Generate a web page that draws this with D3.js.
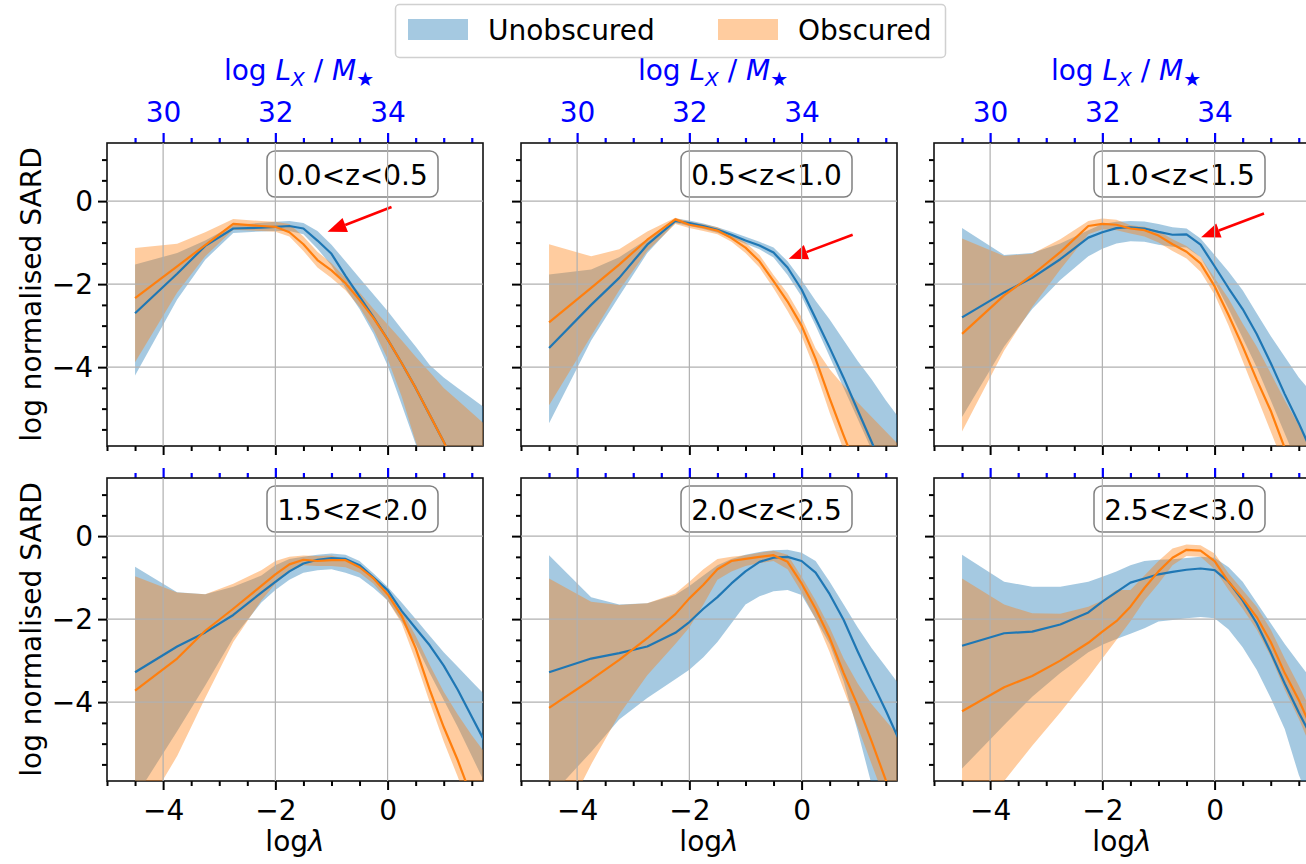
<!DOCTYPE html>
<html>
<head>
<meta charset="utf-8">
<script src="https://cdn.jsdelivr.net/npm/d3@7"></script>
<style>
  body { margin: 0; background: #fff; }
  svg { display: block; font-family: "DejaVu Sans", "Liberation Sans", sans-serif; }
</style>
</head>
<body>
<svg id="chart" width="1306" height="864"></svg>
<script>
// log(lambda) sampling shared by every curve
const logLambda = [-4.5, -3.75, -3.25, -2.75, -2.25, -2.0, -1.75, -1.5, -1.25, -1.0, -0.75, -0.5, -0.25, 0.0, 0.25, 0.5, 0.75, 1.0, 1.25, 1.5, 1.75];

// redshift bins, one per panel
const zBins = ["0.0<z<0.5", "0.5<z<1.0", "1.0<z<1.5", "1.5<z<2.0", "2.0<z<2.5", "2.5<z<3.0"];

// Unobscured: median, lower and upper envelope (log normalised SARD)
const unobsMedian = [
  [-2.70,-1.75,-1.08,-0.66,-0.64,-0.62,-0.60,-0.66,-0.95,-1.27,-1.80,-2.30,-2.80,-3.33,-3.90,-4.50,-5.15,-5.80,-6.50,-7.20,-7.90],
  [-3.54,-2.50,-1.85,-1.05,-0.48,-0.53,-0.60,-0.69,-0.81,-0.95,-1.07,-1.24,-1.60,-2.13,-2.83,-3.53,-4.26,-5.04,-5.81,-6.60,-7.40],
  [-2.80,-2.20,-1.85,-1.40,-0.88,-0.75,-0.65,-0.63,-0.66,-0.74,-0.81,-0.80,-1.05,-1.57,-2.10,-2.60,-3.20,-3.90,-4.65,-5.35,-6.10],
  [-3.28,-2.66,-2.32,-1.90,-1.36,-1.10,-0.85,-0.66,-0.57,-0.53,-0.55,-0.70,-1.00,-1.30,-1.80,-2.22,-2.63,-3.12,-3.70,-4.35,-5.00],
  [-3.28,-2.95,-2.82,-2.66,-2.33,-2.07,-1.75,-1.47,-1.14,-0.85,-0.62,-0.52,-0.50,-0.60,-0.88,-1.40,-2.02,-2.78,-3.50,-4.20,-4.95],
  [-2.64,-2.34,-2.30,-2.13,-1.84,-1.58,-1.35,-1.12,-1.02,-0.92,-0.86,-0.81,-0.78,-0.82,-1.10,-1.55,-2.10,-2.80,-3.55,-4.25,-4.90]
];
const unobsLower = [
  [-4.20,-2.37,-1.41,-0.77,-0.73,-0.72,-0.72,-0.80,-1.15,-1.55,-2.10,-2.60,-3.20,-3.96,-4.90,-5.85,-6.80,-7.70,-8.60,-9.50,-10.40],
  [-5.35,-3.36,-2.29,-1.25,-0.53,-0.60,-0.67,-0.76,-0.89,-1.03,-1.16,-1.36,-1.78,-2.30,-3.00,-3.75,-4.50,-5.25,-6.00,-6.80,-7.60],
  [-5.20,-3.50,-2.60,-1.90,-1.33,-1.15,-1.02,-0.97,-0.98,-1.05,-1.10,-1.12,-1.35,-1.95,-2.60,-3.30,-4.00,-4.80,-5.60,-6.40,-7.20],
  [-6.30,-4.70,-3.60,-2.45,-1.60,-1.30,-1.05,-0.88,-0.82,-0.80,-0.88,-1.00,-1.25,-1.55,-2.05,-2.60,-3.30,-3.95,-4.60,-5.30,-6.00],
  [-6.30,-5.20,-4.42,-3.90,-3.45,-3.22,-2.92,-2.55,-2.10,-1.65,-1.45,-1.33,-1.30,-1.42,-2.00,-2.60,-3.50,-4.70,-6.00,-7.30,-8.60],
  [-5.60,-4.55,-3.87,-3.30,-2.80,-2.62,-2.48,-2.35,-2.22,-2.06,-2.02,-1.98,-1.95,-1.98,-2.25,-2.68,-3.22,-3.90,-4.65,-5.75,-6.60]
];
const unobsUpper = [
  [-1.53,-1.25,-0.95,-0.58,-0.52,-0.50,-0.48,-0.53,-0.72,-1.05,-1.45,-1.85,-2.25,-2.65,-3.08,-3.50,-3.95,-4.25,-4.50,-4.75,-5.00],
  [-1.77,-1.65,-1.35,-0.92,-0.42,-0.47,-0.54,-0.63,-0.74,-0.86,-0.98,-1.12,-1.45,-1.90,-2.40,-2.85,-3.35,-3.85,-4.30,-4.80,-5.25],
  [-0.65,-1.30,-1.25,-1.02,-0.70,-0.55,-0.50,-0.48,-0.49,-0.55,-0.63,-0.66,-0.90,-1.30,-1.70,-2.15,-2.70,-3.25,-3.75,-4.25,-4.65],
  [-0.74,-1.35,-1.40,-1.22,-0.95,-0.70,-0.55,-0.50,-0.45,-0.42,-0.45,-0.60,-0.90,-1.22,-1.60,-2.00,-2.40,-2.80,-3.15,-3.50,-3.85],
  [-0.46,-1.47,-1.65,-1.62,-1.42,-1.20,-0.95,-0.70,-0.55,-0.45,-0.38,-0.34,-0.33,-0.40,-0.60,-1.10,-1.65,-2.20,-2.70,-3.15,-3.60],
  [-0.45,-1.10,-1.22,-1.22,-1.10,-0.98,-0.85,-0.70,-0.60,-0.57,-0.56,-0.53,-0.50,-0.52,-0.75,-1.10,-1.60,-2.10,-2.60,-3.05,-3.50]
];

// Obscured: median, lower and upper envelope
const obsMedian = [
  [-2.34,-1.57,-1.06,-0.55,-0.60,-0.62,-0.75,-1.04,-1.42,-1.67,-1.98,-2.38,-2.82,-3.33,-3.90,-4.50,-5.15,-5.80,-6.50,-7.20,-7.90],
  [-2.92,-2.09,-1.53,-0.93,-0.44,-0.57,-0.63,-0.71,-0.89,-1.12,-1.45,-1.93,-2.42,-3.00,-3.80,-4.75,-5.65,-6.50,-7.40,-8.30,-9.20],
  [-3.20,-2.27,-1.78,-1.23,-0.60,-0.55,-0.57,-0.66,-0.70,-0.83,-1.04,-1.22,-1.50,-2.05,-2.75,-3.50,-4.30,-5.05,-5.95,-6.80,-7.60],
  [-3.72,-2.95,-2.28,-1.75,-1.20,-0.92,-0.68,-0.57,-0.60,-0.58,-0.58,-0.75,-1.02,-1.40,-1.92,-2.70,-3.70,-4.60,-5.40,-6.30,-7.20],
  [-4.14,-3.46,-2.98,-2.46,-1.88,-1.50,-1.17,-0.80,-0.60,-0.55,-0.50,-0.46,-0.62,-1.14,-1.75,-2.45,-3.30,-4.08,-4.95,-5.88,-6.70],
  [-4.22,-3.64,-3.37,-3.00,-2.57,-2.30,-2.05,-1.70,-1.25,-0.85,-0.52,-0.33,-0.35,-0.60,-1.10,-1.50,-1.95,-2.55,-3.30,-3.95,-4.70]
];
const obsLower = [
  [-3.88,-2.20,-1.33,-0.69,-0.72,-0.74,-0.85,-1.20,-1.60,-1.85,-2.15,-2.55,-3.10,-3.80,-4.70,-5.80,-6.80,-7.80,-8.80,-9.80,-10.80],
  [-4.92,-3.25,-2.15,-1.20,-0.55,-0.65,-0.72,-0.80,-0.98,-1.25,-1.60,-2.10,-2.65,-3.25,-4.10,-5.10,-6.00,-6.90,-7.80,-8.70,-9.60],
  [-5.55,-3.60,-2.55,-1.65,-0.80,-0.68,-0.70,-0.78,-0.85,-1.00,-1.20,-1.38,-1.70,-2.25,-3.00,-3.85,-4.70,-5.55,-6.40,-7.30,-8.20],
  [-7.00,-5.30,-3.90,-2.55,-1.55,-1.15,-0.85,-0.70,-0.72,-0.72,-0.75,-0.88,-1.15,-1.55,-2.10,-3.00,-4.00,-4.95,-5.80,-6.70,-7.60],
  [-7.50,-5.50,-4.30,-3.35,-2.60,-2.20,-1.65,-1.05,-0.85,-0.72,-0.65,-0.60,-0.80,-1.35,-2.00,-2.80,-3.70,-4.60,-5.50,-6.40,-7.30],
  [-7.00,-5.90,-5.05,-4.25,-3.40,-2.95,-2.50,-2.05,-1.55,-1.15,-0.70,-0.48,-0.50,-0.80,-1.30,-1.75,-2.25,-2.90,-3.70,-4.40,-5.20]
];
const obsUpper = [
  [-1.13,-1.03,-0.75,-0.43,-0.48,-0.50,-0.55,-0.85,-1.22,-1.50,-1.85,-2.20,-2.60,-2.97,-3.35,-3.75,-4.12,-4.50,-4.80,-5.10,-5.40],
  [-1.04,-1.33,-1.16,-0.73,-0.40,-0.50,-0.56,-0.63,-0.80,-1.00,-1.30,-1.78,-2.22,-2.80,-3.55,-4.05,-4.45,-4.85,-5.20,-5.55,-5.90],
  [-0.90,-1.32,-1.27,-0.92,-0.48,-0.42,-0.45,-0.58,-0.62,-0.72,-0.92,-1.08,-1.35,-1.85,-2.35,-2.95,-3.50,-4.15,-4.80,-5.40,-6.00],
  [-0.97,-1.36,-1.40,-1.15,-0.82,-0.60,-0.50,-0.47,-0.48,-0.47,-0.55,-0.70,-1.00,-1.30,-1.80,-2.40,-3.10,-3.75,-4.30,-4.80,-5.25],
  [-1.02,-1.58,-1.66,-1.62,-1.38,-1.10,-0.80,-0.55,-0.50,-0.46,-0.40,-0.35,-0.45,-0.98,-1.55,-2.20,-2.95,-3.55,-4.05,-4.45,-4.85],
  [-1.02,-1.65,-1.86,-1.87,-1.70,-1.55,-1.30,-1.30,-0.95,-0.60,-0.30,-0.20,-0.22,-0.42,-0.90,-1.30,-1.70,-2.25,-2.95,-3.60,-4.30]
];

// axis ticks
const xTicks = [-4, -2, 0];
const yTicks = [0, -2, -4];
const topTicks = [30, 32, 34];

// annotation arrows on the first row: [logLambda, value] of tail and head
const arrowTail = [[0.07, -0.14], [0.91, -0.81], [0.88, -0.30]];
const arrowHead = [[-1.07, -0.74], [-0.23, -1.39], [-0.24, -0.87]];

const seriesNames = ["Unobscured", "Obscured"];
const seriesColors = ["#1f77b4", "#ff7f0e"];

// ---------- layout ----------
const svg = d3.select("#chart");
const colLeft = [107, 521, 934];
const rowTop = [143, 478];
const panelW = 376, panelH = 303;
const xDomain = [-5, 1.7];
const yDomain = [-5.9, 1.4];
const lxOffset = 34; // log Lx/M* = log lambda + 34
const fontSize = 28;
const gridColor = "#b0b0b0";
const axisBlue = "#0000ff";

function minorRange(lo, hi, step, majors) {
  const out = [];
  for (let v = lo; v <= hi + 1e-9; v += step) {
    const r = Math.round(v * 100) / 100;
    if (!majors.some(m => Math.abs(m - r) < 1e-6)) out.push(r);
  }
  return out;
}

function styleTicks(g, color, width) {
  g.select(".domain").remove();
  g.selectAll(".tick line").attr("stroke", color).attr("stroke-width", width);
  g.selectAll(".tick text").attr("fill", color).attr("font-size", fontSize)
    .attr("font-family", "DejaVu Sans, sans-serif");
}

const defs = svg.append("defs");

zBins.forEach((label, i) => {
  const r = Math.floor(i / 3), c = i % 3;
  const left = colLeft[c], top = rowTop[r];
  const x = d3.scaleLinear().domain(xDomain).range([left, left + panelW]);
  const xTop = d3.scaleLinear().domain([xDomain[0] + lxOffset, xDomain[1] + lxOffset]).range([left, left + panelW]);
  const y = d3.scaleLinear().domain(yDomain).range([top + panelH, top]);

  const clipId = "clip" + i;
  defs.append("clipPath").attr("id", clipId)
    .append("rect").attr("x", left).attr("y", top).attr("width", panelW).attr("height", panelH);

  const panel = svg.append("g");
  const data = svg.append("g").attr("clip-path", `url(#${clipId})`);

  // envelopes
  const lowers = [unobsLower[i], obsLower[i]];
  const uppers = [unobsUpper[i], obsUpper[i]];
  const medians = [unobsMedian[i], obsMedian[i]];
  [0, 1].forEach(s => {
    const area = d3.area()
      .x((d, k) => x(logLambda[k]))
      .y0((d, k) => y(lowers[s][k]))
      .y1((d, k) => y(uppers[s][k]));
    data.append("path").datum(logLambda).attr("d", area)
      .attr("fill", seriesColors[s]).attr("fill-opacity", 0.4).attr("stroke", "none");
  });

  // grid over the envelopes, below the medians
  const grid = data.append("g");
  grid.selectAll("line.gx").data(xTicks).join("line")
    .attr("x1", d => x(d)).attr("x2", d => x(d)).attr("y1", top).attr("y2", top + panelH)
    .attr("stroke", gridColor).attr("stroke-width", 1.2);
  grid.selectAll("line.gy").data(yTicks).join("line")
    .attr("x1", left).attr("x2", left + panelW).attr("y1", d => y(d)).attr("y2", d => y(d))
    .attr("stroke", gridColor).attr("stroke-width", 1.2);

  // median curves
  [0, 1].forEach(s => {
    const line = d3.line().x((d, k) => x(logLambda[k])).y((d, k) => y(medians[s][k]));
    data.append("path").datum(logLambda).attr("d", line)
      .attr("fill", "none").attr("stroke", seriesColors[s]).attr("stroke-width", 2.2)
      .attr("stroke-linejoin", "round");
  });

  // bottom axis
  const bMajor = panel.append("g").attr("transform", `translate(0,${top + panelH})`)
    .call(d3.axisBottom(x).tickValues(xTicks).tickSize(9).tickPadding(10)
      .tickFormat(r === 1 ? d3.format("d") : () => ""));
  styleTicks(bMajor, "#000", 2);
  const bMinor = panel.append("g").attr("transform", `translate(0,${top + panelH})`)
    .call(d3.axisBottom(x).tickValues(minorRange(-5, 1.5, 0.5, xTicks)).tickSize(5).tickFormat(() => ""));
  styleTicks(bMinor, "#000", 2);

  // left axis
  const lMajor = panel.append("g").attr("transform", `translate(${left},0)`)
    .call(d3.axisLeft(y).tickValues(yTicks).tickSize(9).tickPadding(5)
      .tickFormat(c === 0 ? d3.format("d") : () => ""));
  styleTicks(lMajor, "#000", 2);
  const lMinor = panel.append("g").attr("transform", `translate(${left},0)`)
    .call(d3.axisLeft(y).tickValues(minorRange(-5.5, 1.0, 0.5, yTicks)).tickSize(5).tickFormat(() => ""));
  styleTicks(lMinor, "#000", 2);

  // secondary axis on top: log Lx / M*
  const tMajor = panel.append("g").attr("transform", `translate(0,${top})`)
    .call(d3.axisTop(xTop).tickValues(topTicks).tickSize(10).tickPadding(11)
      .tickFormat(r === 0 ? d3.format("d") : () => ""));
  styleTicks(tMajor, axisBlue, 2.2);
  const tMinor = panel.append("g").attr("transform", `translate(0,${top})`)
    .call(d3.axisTop(xTop).tickValues(minorRange(29.5, 35.5, 0.5, topTicks)).tickSize(5).tickFormat(() => ""));
  styleTicks(tMinor, axisBlue, 2.2);

  // frame
  panel.append("rect").attr("x", left).attr("y", top).attr("width", panelW).attr("height", panelH)
    .attr("fill", "none").attr("stroke", "#111").attr("stroke-width", 1.6);

  // redshift label box
  const boxX = left + 160, boxY = top + 8, boxW = 171, boxH = 46;
  panel.append("rect").attr("x", boxX).attr("y", boxY).attr("width", boxW).attr("height", boxH)
    .attr("rx", 8).attr("fill", "#fff").attr("fill-opacity", 0.9)
    .attr("stroke", "#808080").attr("stroke-width", 1.5);
  panel.append("text").attr("x", boxX + boxW / 2).attr("y", boxY + boxH / 2 + 10.5)
    .attr("text-anchor", "middle").attr("font-size", fontSize).attr("fill", "#000").text(label);

  // arrows in the first row
  if (r === 0) {
    const [tx, ty] = [x(arrowTail[c][0]), y(arrowTail[c][1])];
    const [hx, hy] = [x(arrowHead[c][0]), y(arrowHead[c][1])];
    const ang = Math.atan2(hy - ty, hx - tx);
    const headLen = 19, headHalf = 7.5;
    const bx = hx - headLen * Math.cos(ang), by = hy - headLen * Math.sin(ang);
    panel.append("line").attr("x1", tx).attr("y1", ty).attr("x2", bx).attr("y2", by)
      .attr("stroke", "#ff0000").attr("stroke-width", 2.6);
    const px = -Math.sin(ang), py = Math.cos(ang);
    panel.append("path")
      .attr("d", `M${hx},${hy}L${bx + px * headHalf},${by + py * headHalf}L${bx - px * headHalf},${by - py * headHalf}Z`)
      .attr("fill", "#ff0000");
  }

  // axis titles
  if (r === 0) {
    const t = panel.append("text").attr("x", left + panelW / 2 + 4).attr("y", 80)
      .attr("text-anchor", "middle").attr("font-size", fontSize).attr("fill", axisBlue);
    t.append("tspan").text("log ");
    t.append("tspan").attr("font-style", "italic").text("L");
    t.append("tspan").attr("font-style", "italic").attr("font-size", 20).attr("dy", 6).text("X");
    t.append("tspan").attr("dy", -6).text(" / ");
    t.append("tspan").attr("font-style", "italic").text("M");
    t.append("tspan").attr("font-size", 20).attr("dy", 6).text("\u2605");
  }
  if (r === 1) {
    const t = panel.append("text").attr("x", left + panelW / 2).attr("y", 851)
      .attr("text-anchor", "middle").attr("font-size", fontSize).attr("fill", "#000");
    t.append("tspan").text("log");
    t.append("tspan").attr("font-style", "italic").text("\u03bb");
  }
  if (c === 0) {
    panel.append("text")
      .attr("transform", `translate(41,${top + panelH / 2}) rotate(-90)`)
      .attr("text-anchor", "middle").attr("font-size", fontSize).attr("fill", "#000")
      .text("log normalised SARD");
  }
});

// legend
const legend = svg.append("g");
legend.append("rect").attr("x", 395.5).attr("y", 4.5).attr("width", 550).attr("height", 53)
  .attr("rx", 4).attr("fill", "#fff").attr("fill-opacity", 0.8)
  .attr("stroke", "#d0d0d0").attr("stroke-width", 1.5);
const legendX = [408, 718];
seriesNames.forEach((name, s) => {
  legend.append("rect").attr("x", legendX[s]).attr("y", 19).attr("width", 60).attr("height", 21)
    .attr("fill", seriesColors[s]).attr("fill-opacity", 0.4);
  legend.append("text").attr("x", legendX[s] + 80).attr("y", 40)
    .attr("font-size", fontSize).attr("fill", "#000").text(name);
});
</script>
</body>
</html>
